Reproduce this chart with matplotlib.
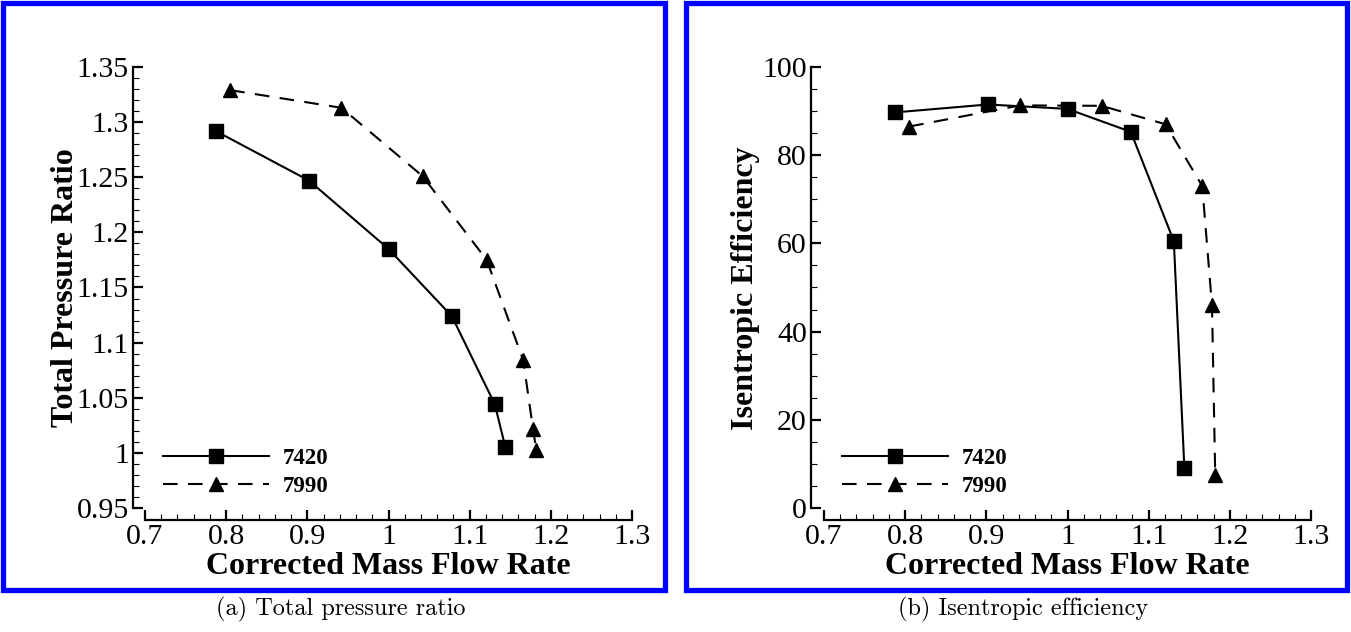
import numpy as np
import matplotlib
matplotlib.use('Agg')
import matplotlib.pyplot as plt
from matplotlib.patches import Rectangle
from matplotlib.ticker import MultipleLocator, FuncFormatter

plt.rcParams['font.family'] = 'Liberation Serif'

# data
flow_7420 = [0.787, 0.902, 1.000, 1.078, 1.131, 1.144]
pr_7420 = [1.292, 1.247, 1.185, 1.124, 1.044, 1.005]
eff_7420 = [89.7, 91.5, 90.5, 85.3, 60.5, 9.0]

flow_7990 = [0.805, 0.942, 1.042, 1.121, 1.166, 1.178, 1.182]
pr_7990 = [1.329, 1.313, 1.251, 1.175, 1.084, 1.022, 1.003]
eff_7990 = [86.5, 91.3, 91.2, 87.0, 73.0, 46.0, 7.5]

labels = ['7420', '7990']
captions = ['(a) Total pressure ratio', '(b) Isentropic efficiency']
ylabels = ['Total Pressure Ratio', 'Isentropic Efficiency']

W, H = 1351, 632
fig = plt.figure(figsize=(W / 100, H / 100), dpi=100)


def px_axes(x0, x1, y0, y1):
    return fig.add_axes([x0 / W, 1 - y1 / H, (x1 - x0) / W, (y1 - y0) / H])


def style_axes(ax, yoff, xoff):
    for s in ['top', 'right']:
        ax.spines[s].set_visible(False)
    ax.spines['left'].set_position(('outward', yoff * 0.72))
    ax.spines['bottom'].set_position(('outward', xoff * 0.72))
    for s in ['left', 'bottom']:
        ax.spines[s].set_linewidth(1.6)
    ax.tick_params(which='major', direction='in', length=7.5, width=1.6,
                   labelsize=21.5, pad=3)
    ax.tick_params(which='minor', direction='in', length=4, width=0.8)
    ax.xaxis.set_major_locator(MultipleLocator(0.1))
    ax.xaxis.set_minor_locator(MultipleLocator(0.02))
    ax.xaxis.set_major_formatter(FuncFormatter(lambda v, p: '%g' % round(v, 3)))
    ax.yaxis.set_major_formatter(FuncFormatter(lambda v, p: '%g' % round(v, 3)))
    ax.set_xlim(0.7, 1.3)


def draw(ax, y1, y2):
    ax.plot(flow_7420, y1, 'k-', marker='s', ms=10, lw=1.5, label=labels[0],
            clip_on=False)
    ax.plot(flow_7990, y2, 'k', ls=(0, (7, 5)), marker='^', ms=10, lw=1.5,
            label=labels[1], clip_on=False)
    ax.legend(loc='lower left', bbox_to_anchor=(-0.005, -0.022), frameon=False,
              handlelength=4.6, handletextpad=0.6, labelspacing=0.32,
              prop={'weight': 'bold', 'size': 16.5})


# panel a
ax1 = px_axes(145, 632, 67, 508)
style_axes(ax1, 12, 12)
ax1.set_ylim(0.95, 1.35)
ax1.yaxis.set_major_locator(MultipleLocator(0.05))
ax1.yaxis.set_minor_locator(MultipleLocator(0.01))
draw(ax1, pr_7420, pr_7990)

# panel b
ax2 = px_axes(824, 1311, 67, 508)
style_axes(ax2, 13, 12)
ax2.set_ylim(0, 100)
ax2.yaxis.set_major_locator(MultipleLocator(20))
ax2.yaxis.set_minor_locator(MultipleLocator(5))
draw(ax2, eff_7420, eff_7990)

# axis titles
fig.text(388 / W, 1 - 566 / H, 'Corrected Mass Flow Rate', ha='center', va='center',
         fontsize=23, fontweight='bold')
fig.text(1067 / W, 1 - 566 / H, 'Corrected Mass Flow Rate', ha='center', va='center',
         fontsize=23, fontweight='bold')
fig.text(66 / W, 1 - 288 / H, ylabels[0], ha='center', va='center', rotation=90,
         fontsize=23, fontweight='bold')
fig.text(746 / W, 1 - 288 / H, ylabels[1], ha='center', va='center', rotation=90,
         fontsize=23, fontweight='bold')

# blue frames
for x0, x1 in [(3, 665), (686, 1347)]:
    fig.patches.append(Rectangle((x0 / W, 1 - 590 / H), (x1 - x0) / W, 587 / H,
                                 transform=fig.transFigure, fill=False,
                                 edgecolor='#0000ff', lw=3.8))

# captions
fig.text(341 / W, 1 - 609 / H, captions[0], ha='center', va='center', fontsize=17.5,
         family='cmr10')
fig.text(1023 / W, 1 - 609 / H, captions[1], ha='center', va='center', fontsize=17.5,
         family='cmr10')

fig.savefig('out.png', dpi=100)
